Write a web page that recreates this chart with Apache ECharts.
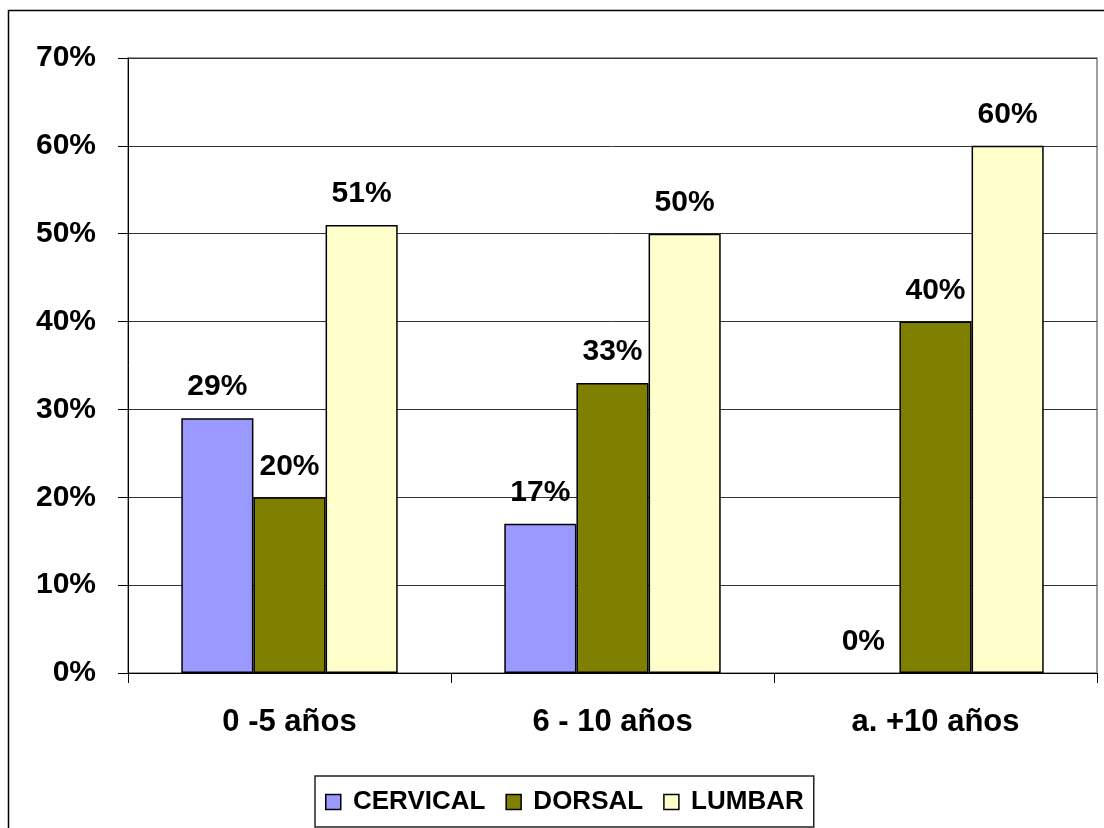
<!DOCTYPE html>
<html>
<head>
<meta charset="utf-8">
<script src="https://cdn.jsdelivr.net/npm/echarts@6/dist/echarts.min.js"></script>
<style>
  html, body { margin: 0; padding: 0; background: #fff; }
  #chart { width: 1104px; height: 828px; }
</style>
</head>
<body>
<div id="chart"></div>
<script>
// datos
const categorias = ['0 -5 años', '6 - 10 años', 'a. +10 años'];
const cervical = [29, 17, 0];
const dorsal = [20, 33, 40];
const lumbar = [51, 50, 60];
const yTicks = [0, 10, 20, 30, 40, 50, 60, 70];

const fuente = 'Liberation Sans, Arial, sans-serif';

function serie(nombre, datos, color) {
  return {
    name: nombre,
    type: 'bar',
    // una barra en 0 no lleva borde
    data: datos.map(v => v === 0 ? { value: v, itemStyle: { borderWidth: 0 } } : v),
    barGap: '0%',
    barCategoryGap: '33%',
    itemStyle: { color: color, borderColor: '#000', borderWidth: 1.5 },
    label: {
      show: true,
      position: 'top',
      distance: 16,
      formatter: p => p.value + '%',
      fontFamily: fuente,
      fontWeight: 'bold',
      fontSize: 30,
      color: '#000'
    }
  };
}

let myChart = echarts.init(document.getElementById('chart'));
let option = {
  animation: false,
  backgroundColor: '#fff',
  graphic: [
    {
      type: 'rect',
      shape: { x: 8.5, y: 10.5, width: 1200, height: 900 },
      style: { fill: 'none', stroke: '#000', lineWidth: 1.5 },
      silent: true
    }
  ],
  grid: { left: 128, right: 7, top: 58, bottom: 155, show: true, borderColor: '#808080', borderWidth: 1.5 },
  legend: {
    bottom: 1,
    left: 315,
    icon: 'rect',
    itemWidth: 15,
    itemHeight: 15,
    itemGap: 20,
    padding: [13, 10, 12, 10],
    borderColor: '#222',
    borderWidth: 1.5,
    itemStyle: { borderColor: '#000', borderWidth: 1.5 },
    formatter: n => ' ' + n,
    textStyle: { fontFamily: fuente, fontWeight: 'bold', fontSize: 26, color: '#000' },
    data: ['CERVICAL', 'DORSAL', 'LUMBAR']
  },
  xAxis: {
    type: 'category',
    data: categorias,
    axisLine: { lineStyle: { color: '#000', width: 1 } },
    axisTick: { show: true, length: 10, lineStyle: { color: '#000' } },
    axisLabel: { margin: 34, fontFamily: fuente, fontWeight: 'bold', fontSize: 31, color: '#000' },
    splitLine: { show: false }
  },
  yAxis: {
    type: 'value',
    min: 0,
    max: 70,
    interval: 10,
    axisLine: { show: true, lineStyle: { color: '#000', width: 1 } },
    axisTick: { show: true, inside: false, length: 10, lineStyle: { color: '#000' } },
    axisLabel: {
      margin: 32,
      fontFamily: fuente, fontWeight: 'bold', fontSize: 30, color: '#000',
      formatter: v => yTicks.includes(v) ? v + '%' : ''
    },
    splitLine: { show: true, lineStyle: { color: '#333', width: 1 } }
  },
  series: [
    serie('CERVICAL', cervical, '#9999FF'),
    serie('DORSAL', dorsal, '#808000'),
    serie('LUMBAR', lumbar, '#FFFFCC')
  ]
};
option && myChart.setOption(option);
</script>
</body>
</html>
